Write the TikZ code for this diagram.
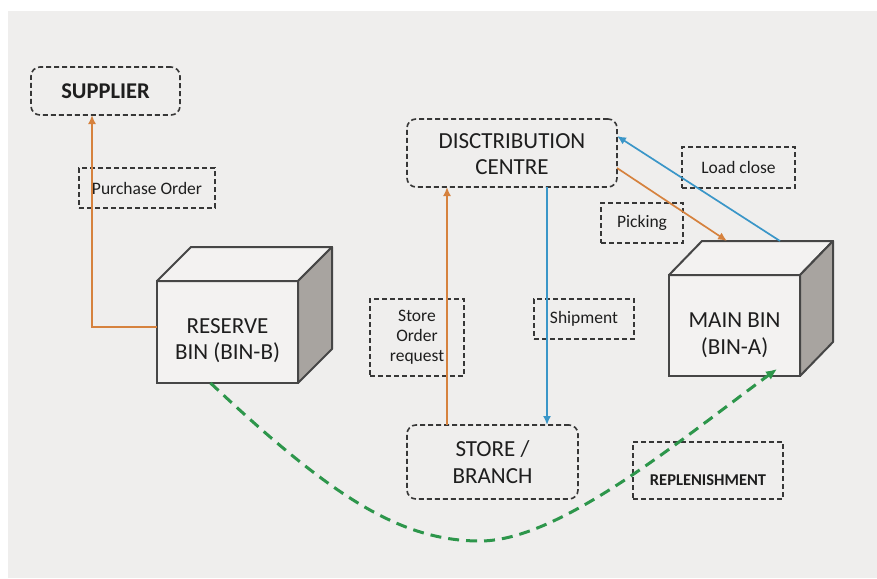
\documentclass[tikz,border=0pt]{standalone}
\usepackage{fontspec}
\setmainfont{Carlito}
\usetikzlibrary{arrows.meta,calc}
\definecolor{bgc}{RGB}{239,238,237}
\definecolor{boxline}{RGB}{55,55,55}
\definecolor{txt}{RGB}{30,30,30}
\definecolor{orangec}{RGB}{214,130,62}
\definecolor{bluec}{RGB}{58,150,200}
\definecolor{greenc}{RGB}{45,150,75}
\definecolor{cubeline}{RGB}{70,70,70}
\definecolor{cubefill}{RGB}{243,242,241}
\definecolor{cubeside}{RGB}{168,164,160}
\newcommand{\lowtext}[2]{\raisebox{#1}[\height][\depth]{\begin{tabular}{@{}c@{}}#2\end{tabular}}}
\begin{document}
\begin{tikzpicture}[x=1pt,y=-1pt,
  mainbox/.style={draw=boxline, line width=1.6pt, dash pattern=on 5pt off 3pt, rounded corners=9pt, align=center, font=\fontsize{23}{26.5}\selectfont, inner sep=0pt, outer sep=0pt, text=txt},
  lblbox/.style={draw=boxline, line width=1.4pt, dash pattern=on 5pt off 3pt, align=center, font=\fontsize{17.5}{20}\selectfont, inner sep=0pt, outer sep=0pt, text=txt},
  cubefront/.style={draw=cubeline, line width=2pt, fill=cubefill, align=center, font=\fontsize{23}{26.5}\selectfont, inner sep=0pt, outer sep=0pt, text=txt},
  cubeedge/.style={draw=cubeline, line width=2pt, line join=round},
  oarrow/.style={draw=orangec, line width=1.7pt, -{Latex[length=9pt,width=8pt]}},
  barrow/.style={draw=bluec, line width=1.7pt, -{Latex[length=9pt,width=8pt]}},
  garrow/.style={draw=greenc, line width=3pt, dash pattern=on 11pt off 7pt, -{Latex[length=11pt,width=10pt]}}]
\useasboundingbox (0,0) rectangle (877,578);
\fill[white] (0,0) rectangle (877,578);
\fill[bgc] (8,11) rectangle (877,578);

% main boxes
\node[mainbox, minimum width=149pt, minimum height=48pt, font=\fontsize{22.5}{26}\selectfont\bfseries] (sup) at (105.5,91) {SUPPLIER};
\node[mainbox, minimum width=210pt, minimum height=68pt] (dc) at (512,153) {\lowtext{-3pt}{DISCTRIBUTION\\CENTRE}};
\node[mainbox, minimum width=171pt, minimum height=74pt] (st) at (492.5,462) {STORE /\\BRANCH};

% label boxes
\node[lblbox, minimum width=136pt, minimum height=40pt] (po) at (147,188) {Purchase Order};
\node[lblbox, minimum width=94pt, minimum height=77pt] (sor) at (417,337.5) {Store\\Order\\request};
\node[lblbox, minimum width=100pt, minimum height=40pt] (sh) at (584,319) {Shipment};
\node[lblbox, minimum width=113pt, minimum height=41pt] (lc) at (738.5,167.5) {Load close};
\node[lblbox, minimum width=82pt, minimum height=40pt] (pk) at (642,223) {Picking};
\node[lblbox, minimum width=150pt, minimum height=57pt, font=\fontsize{16.5}{20}\selectfont\bfseries] (rp) at (708,470.5) {\raisebox{-10pt}[\height][\depth]{REPLENISHMENT}};

% cubes
\node[cubefront, minimum width=141pt, minimum height=102pt] (rb) at (227.5,332) {\lowtext{-9pt}{RESERVE\\BIN (BIN-B)}};
\draw[cubeedge, fill=cubefill] (rb.north west) -- ($(rb.north west)+(34,-34)$) -- ($(rb.north east)+(34,-34)$) -- (rb.north east) -- cycle;
\draw[cubeedge, fill=cubeside] (rb.north east) -- ($(rb.north east)+(34,-34)$) -- ($(rb.south east)+(34,-34)$) -- (rb.south east) -- cycle;

\node[cubefront, minimum width=131pt, minimum height=101pt] (mb) at (734.5,325.5) {\lowtext{-10pt}{MAIN BIN\\(BIN-A)}};
\draw[cubeedge, fill=cubefill] (mb.north west) -- ($(mb.north west)+(33,-34)$) -- ($(mb.north east)+(33,-34)$) -- (mb.north east) -- cycle;
\draw[cubeedge, fill=cubeside] (mb.north east) -- ($(mb.north east)+(33,-34)$) -- ($(mb.south east)+(33,-34)$) -- (mb.south east) -- cycle;

% connectors
\draw[oarrow] ([yshift=5pt]rb.west) -| ([xshift=-13.5pt]sup.south);
\draw[oarrow] ([xshift=-45.5pt]st.north) -- ([xshift=-45.5pt]st.north |- dc.south);
\draw[barrow] ([xshift=35pt]dc.south) -- ([xshift=35pt]dc.south |- st.north);
\draw[barrow] ($(mb.north east)+(-20,-34)$) -- ([yshift=17pt]dc.east);
\draw[oarrow] ([yshift=-15pt]dc.east) -- ($(mb.north west)+(58,-34)$);
\coordinate (gbot) at (480,541);
\draw[garrow] ([xshift=-17pt]rb.south) .. controls +(120,113) and (400,541) .. (gbot)
  .. controls (560,541) and (680,440) .. ([xshift=-23pt,yshift=7pt]mb.south east);
\end{tikzpicture}
\end{document}
